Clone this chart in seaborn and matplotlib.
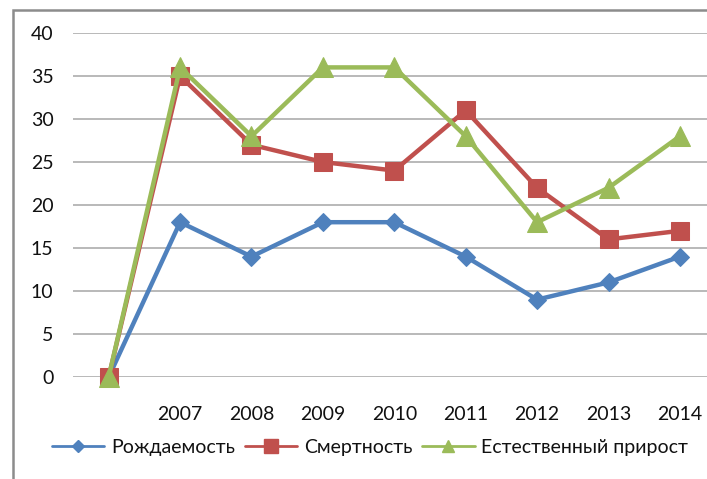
import matplotlib.pyplot as plt
import matplotlib.patches as mpatches
from matplotlib.lines import Line2D
import seaborn as sns
import pandas as pd

# Chart data
years = ['', '2007', '2008', '2009', '2010', '2011', '2012', '2013', '2014']
births = [0, 18, 14, 18, 18, 14, 9, 11, 14]
deaths = [0, 35, 27, 25, 24, 31, 22, 16, 17]
growth = [0, 36, 28, 36, 36, 28, 18, 22, 28]
series_names = ['Рождаемость', 'Смертность', 'Естественный прирост']

colors = ['#4F81BD', '#C0504D', '#9BBB59']
markers = ['D', 's', '^']
msizes = [9, 13, 14]

sns.set_style('white')
plt.rcParams['font.family'] = ['Lato', 'DejaVu Sans']

df = pd.DataFrame({'pos': range(len(years)), 'year': years,
                   series_names[0]: births, series_names[1]: deaths,
                   series_names[2]: growth})

fig = plt.figure(figsize=(7.07, 4.79), dpi=100)
ax = fig.add_axes([73 / 707, 1 - 377 / 479, 9 * 71.4 / 707, 344 / 479])

for name, c, m, ms in zip(series_names, colors, markers, msizes):
    sns.lineplot(data=df, x='pos', y=name, ax=ax, color=c, marker=m,
                 markersize=ms, markeredgecolor=c, linewidth=3.2,
                 clip_on=False, zorder=3, legend=False)

ax.set_xlim(-0.5, len(years) - 0.5)
ax.set_ylim(0, 40)
ax.set_yticks(range(0, 41, 5))
ax.set_xticks(range(len(years)))
ax.set_xticklabels(years)
ax.set_xlabel('')
ax.set_ylabel('')
ax.grid(axis='y', color='#B3B3B3', linewidth=1.3)
ax.grid(axis='x', visible=False)
for s in ax.spines.values():
    s.set_visible(False)
ax.tick_params(axis='y', length=0, pad=14, labelsize=14)
ax.tick_params(axis='x', length=0, pad=21, labelsize=14)
for lab in ax.get_xticklabels() + ax.get_yticklabels():
    lab.set_color('#111111')

# legend
handles = [Line2D([], [], color=c, marker=m, markersize=s, linewidth=2,
                  markeredgecolor=c)
           for c, m, s in zip(colors, markers, [6, 10, 9])]
fig.legend(handles, series_names, loc='center', ncol=3, frameon=False,
           bbox_to_anchor=(370 / 707, 1 - 447 / 479), fontsize=14,
           handlelength=2.7, handletextpad=0.35, columnspacing=0.5,
           labelcolor='#111111')

# outer chart border (cropped on right and bottom)
border = mpatches.Rectangle((13 / 707, -0.1), 1.1, 1 - 10 / 479 + 0.1,
                            transform=fig.transFigure, fill=False,
                            edgecolor='#8C8C8C', linewidth=1.8, clip_on=False)
fig.patches.append(border)

fig.savefig('out.png', dpi=100)
